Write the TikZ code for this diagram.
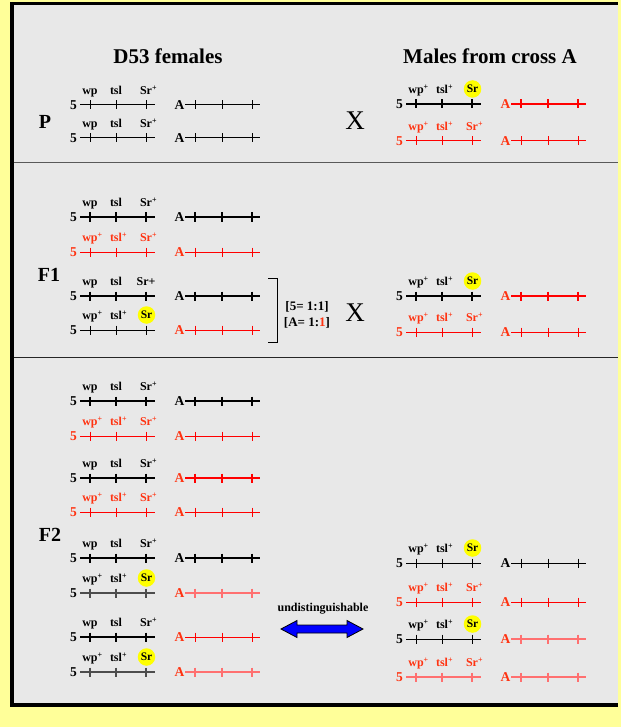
\documentclass[tikz,border=0pt]{standalone}
\usepackage{fontspec}
\setmainfont{Liberation Serif}
\definecolor{bgyellow}{HTML}{FFFF99}
\definecolor{panelgray}{HTML}{E8E8E8}
\definecolor{tred}{HTML}{FF3311}
\definecolor{lred}{HTML}{FF7070}
\definecolor{lgray}{HTML}{4D4D4D}
\definecolor{sryellow}{HTML}{FFFF00}
\definecolor{arrblue}{HTML}{0000FF}
\tikzset{
  numlab/.style={font=\fontsize{13.5}{13.5}\selectfont\bfseries, inner sep=0pt, anchor=base east},
  genelab/.style={font=\fontsize{12}{12}\selectfont\bfseries, inner sep=0pt, anchor=base},
  srdot/.style={circle, fill=sryellow, inner sep=0pt, minimum size=17.5pt, font=\fontsize{11.5}{11.5}\selectfont\bfseries},
  title/.style={font=\fontsize{21}{21}\selectfont\bfseries, inner sep=0pt},
  genlab/.style={font=\fontsize{20}{20}\selectfont\bfseries, inner sep=0pt},
  crosslab/.style={font=\fontsize{27}{27}\selectfont, inner sep=0pt},
  ratiolab/.style={font=\fontsize{13}{13}\selectfont\bfseries, inner sep=0pt},
  smalllab/.style={font=\fontsize{12}{12}\selectfont\bfseries, inner sep=0pt},
  blk/.style={draw=black, line width=1pt},
  blkT/.style={draw=black, line width=1.8pt},
  redln/.style={draw=red, line width=1pt},
  redT/.style={draw=red, line width=1.8pt},
  gry/.style={draw=lgray, line width=1.4pt},
  lredln/.style={draw=lred, line width=1.8pt},
}
\newcommand\wpp{wp\rlap{\textsuperscript{+}}}
\newcommand\tslp{tsl\rlap{\textsuperscript{+}}}
\newcommand\srp{Sr\rlap{\textsuperscript{+}}}
% #1 name, #2 xoff, #3 y, #4 number colour, #5 line style, #6 gene colour, #7 #8 #9 gene labels (empty #9 = Sr dot)
\newcommand\chrfive[9]{%
  \node[numlab, text=#4] (#1n) at (#2+77,#3+4.6) {5};
  \draw[#5] (#2+80,#3) -- (#2+155,#3);
  \foreach \tx in {90,116,146}{\draw[#5] (#2+\tx,#3-4.5) -- (#2+\tx,#3+4.5);}
  \node[genelab, text=#6] (#1a) at (#2+90,#3-10.5) {#7};
  \node[genelab, text=#6] (#1b) at (#2+116,#3-10.5) {#8};
  \if\relax\detokenize{#9}\relax
    \node[srdot] (#1c) at (#2+146.5,#3-15) {Sr};
  \else
    \node[genelab, text=#6] (#1c) at (#2+146,#3-10.5) {#9};
  \fi
}
% #1 name, #2 xoff, #3 y, #4 letter colour, #5 line style
\newcommand\chrA[5]{%
  \node[numlab, text=#4] (#1n) at (#2+184.5,#3+4.6) {A};
  \draw[#5] (#2+185,#3) -- (#2+260,#3);
  \foreach \tx in {195,222,252}{\draw[#5] (#2+\tx,#3-4.5) -- (#2+\tx,#3+4.5);}
}
\begin{document}
\begin{tikzpicture}[x=1pt,y=-1pt]
\useasboundingbox (0,0) rectangle (621,727);
\fill[bgyellow] (0,0) rectangle (621,727);
% panel
\fill[panelgray] (10,2) rectangle (618,707);
\fill[black] (10,2) rectangle (618,5.5);
\fill[black] (10,2) rectangle (13.5,707.3);
\fill[black] (10,702.7) rectangle (618,707.3);
\draw[line width=1pt, draw=black!65] (13.5,163) -- (618,163);
\draw[line width=1pt, draw=black!85] (13.5,357) -- (618,357);
% titles
\node[title] (tleft) at (168,56) {D53 females};
\node[title] (tright) at (490,56) {Males from cross A};
\node[genlab] (gP) at (45,122) {P};
\node[genlab] (gF1) at (49,275) {F1};
\node[genlab] (gF2) at (50,535) {F2};
\node[crosslab] (xP) at (355,121) {X};
\node[crosslab] (xF1) at (355,313) {X};
% ---- P ----
\chrfive{pla}{0}{105}{black}{blk}{black}{wp}{tsl}{\srp}
\chrA{plaA}{0}{105}{black}{blk}
\chrfive{plb}{0}{138}{black}{blk}{black}{wp}{tsl}{\srp}
\chrA{plbA}{0}{138}{black}{blk}
\chrfive{pra}{326}{104}{black}{blkT}{black}{\wpp}{\tslp}{}
\chrA{praA}{326}{104}{tred}{redT}
\chrfive{prb}{326}{141}{tred}{redln}{tred}{\wpp}{\tslp}{\srp}
\chrA{prbA}{326}{141}{tred}{redln}
% ---- F1 ----
\chrfive{fla}{0}{217}{black}{blkT}{black}{wp}{tsl}{\srp}
\chrA{flaA}{0}{217}{black}{blkT}
\chrfive{flb}{0}{252}{tred}{redln}{tred}{\wpp}{\tslp}{\srp}
\chrA{flbA}{0}{252}{tred}{redln}
\chrfive{flc}{0}{296}{black}{blkT}{black}{wp}{tsl}{Sr+}
\chrA{flcA}{0}{296}{black}{blkT}
\chrfive{fld}{0}{330}{black}{blk}{black}{\wpp}{\tslp}{}
\chrA{fldA}{0}{330}{tred}{redln}
\chrfive{fra}{326}{296}{black}{blkT}{black}{\wpp}{\tslp}{}
\chrA{fraA}{326}{296}{tred}{redT}
\chrfive{frb}{326}{332}{tred}{redln}{tred}{\wpp}{\tslp}{\srp}
\chrA{frbA}{326}{332}{tred}{redln}
% bracket and ratios
\coordinate (bra1) at (268,278);
\coordinate (bra2) at (277,278);
\coordinate (bra3) at (277,342);
\coordinate (bra4) at (268,342);
\draw[line width=1pt] (bra1) -- (bra2) -- (bra3) -- (bra4);
\node[ratiolab] (r5) at (307,307) {[5= 1:1]};
\node[ratiolab] (rA) at (307,323) {[A= 1:\textcolor{tred}{1}]};
% ---- F2 left ----
\chrfive{sla}{0}{401}{black}{blkT}{black}{wp}{tsl}{\srp}
\chrA{slaA}{0}{401}{black}{blkT}
\chrfive{slb}{0}{436}{tred}{redln}{tred}{\wpp}{\tslp}{\srp}
\chrA{slbA}{0}{436}{tred}{redln}
\chrfive{slc}{0}{478}{black}{blkT}{black}{wp}{tsl}{\srp}
\chrA{slcA}{0}{478}{tred}{redT}
\chrfive{sld}{0}{512}{tred}{redln}{tred}{\wpp}{\tslp}{\srp}
\chrA{sldA}{0}{512}{tred}{redln}
\chrfive{sle}{0}{558}{black}{blkT}{black}{wp}{tsl}{\srp}
\chrA{sleA}{0}{558}{black}{blkT}
\chrfive{slf}{0}{593}{black}{gry}{black}{\wpp}{\tslp}{}
\chrA{slfA}{0}{593}{tred}{lredln}
\chrfive{slg}{0}{637}{black}{blkT}{black}{wp}{tsl}{\srp}
\chrA{slgA}{0}{637}{tred}{redln}
\chrfive{slh}{0}{672}{black}{gry}{black}{\wpp}{\tslp}{}
\chrA{slhA}{0}{672}{tred}{lredln}
% ---- F2 right ----
\chrfive{sra}{326}{563}{black}{blk}{black}{\wpp}{\tslp}{}
\chrA{sraA}{326}{563}{black}{blk}
\chrfive{srb}{326}{602}{tred}{redln}{tred}{\wpp}{\tslp}{\srp}
\chrA{srbA}{326}{602}{tred}{redln}
\chrfive{src}{326}{639}{black}{blk}{black}{\wpp}{\tslp}{}
\chrA{srcA}{326}{639}{tred}{lredln}
\chrfive{srd}{326}{677}{tred}{lredln}{tred}{\wpp}{\tslp}{\srp}
\chrA{srdA}{326}{677}{tred}{lredln}
% undistinguishable arrow
\node[smalllab] (undist) at (323,609) {undistinguishable};
\filldraw[fill=arrblue, draw=black, line width=0.8pt]
  (281,629) -- (297,620.5) -- (297,625) -- (347,625) -- (347,620.5) -- (363,629)
  -- (347,637.5) -- (347,633) -- (297,633) -- (297,637.5) -- cycle;
\end{tikzpicture}
\end{document}
